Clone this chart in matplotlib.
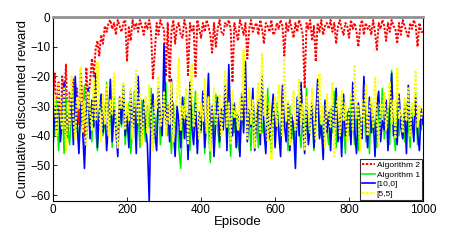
import matplotlib.pyplot as plt

# episodes sampled every 5 steps
episodes = list(range(0, 1001, 5))

algorithm2 = [
    -27, -19, -35, -22, -38, -20, -30, -16, -41, -25, -33, -21, -39, -24, -36, -18, -30, -40, -17, -28, -22,
    -14, -20, -11, -8, -13, -6, -9, -3, -5, -2,
    -1, -4, -2, -6, -1, -3, -5, -2, -1, -15,
    -3, -8, -1, -4, -2, -5, -1, -3, -6, -2,
    -4, -1, -5, -21, -12, -2, -6, -1, -3, -4,
    -20, -2, -22, -5, -1, -9, -3, -2, -6, -7,
    -1, -4, -20, -2, -5, -3, -20, -1, -4, -7,
    -2, -5, -1, -3, -6, -12, -2, -10, -4, -1,
    -5, -6, -2, -3, -1, -4, -22, -2, -5, -8,
    -1, -3, -6, -2, -14, -4, -1, -5, -3, -2,
    -6, -1, -4, -9, -2, -3, -5, -1, -6, -5,
    -2, -4, -1, -3, -13, -2, -5, -1, -4, -7,
    -2, -5, -1, -3, -6, -24, -2, -4, -1, -8,
    -3, -15, -2, -5, -1, -6, -3, -2, -4, -1,
    -5, -2, -9, -3, -1, -4, -6, -2, -3, -7,
    -1, -4, -2, -5, -10, -3, -1, -6, -2, -4,
    -3, -6, -1, -5, -11, -2, -4, -1, -3, -8,
    -2, -5, -1, -3, -4, -9, -2, -6, -1, -3,
    -5, -7, -2, -4, -1, -3, -10, -2, -5, -5,
]

algorithm1 = [
    -33, -40, -28, -45, -36, -30, -46, -27, -38, -43,
    -31, -24, -39, -35, -44, -29, -37, -23, -41, -34,
    -30, -42, -26, -38, -45, -33, -28, -40, -36, -22,
    -39, -31, -44, -27, -35, -41, -30, -37, -24, -43,
    -34, -29, -46, -38, -25, -40, -32, -44, -28, -36,
    -42, -30, -37, -24, -45, -33, -39, -27, -43, -35,
    -31, -22, -40, -36, -46, -29, -38, -33, -44, -51,
    -35, -27, -41, -32, -45, -30, -38, -25, -43, -34,
    -39, -28, -46, -33, -37, -49, -31, -42, -26, -38,
    -44, -32, -36, -23, -41, -35, -47, -29, -39, -33,
    -43, -46, -30, -37, -25, -41, -34, -45, -28, -38,
    -32, -44, -27, -39, -35, -42, -24, -37, -46, -31,
    -40, -29, -36, -43, -26, -38, -33, -45, -30, -41,
    -35, -48, -28, -37, -44, -32, -39, -24, -42, -34,
    -30, -45, -36, -27, -40, -33, -47, -29, -38, -43,
    -31, -39, -25, -44, -35, -41, -28, -37, -46, -32,
    -40, -27, -36, -43, -30, -45, -34, -38, -26, -42,
    -33, -46, -29, -39, -35, -44, -31, -37, -24, -41,
    -36, -30, -43, -18, -38, -45, -28, -40, -33, -37,
    -42, -29, -36, -44, -31, -39, -26, -43, -35, -38,
    -33,
]

fixed_10_0 = [
    -44, -30, -38, -26, -42, -34, -22, -40, -31, -36,
    -27, -43, -20, -35, -46, -29, -38, -51, -33, -24,
    -41, -28, -37, -19, -44, -32, -26, -39, -30, -45,
    -35, -21, -42, -31, -38, -47, -27, -36, -23, -40,
    -33, -44, -25, -38, -30, -46, -20, -35, -41, -28,
    -37, -43, -62, -31, -26, -39, -45, -24, -34, -40,
    -9, -36, -29, -42, -21, -38, -47, -30, -35, -44,
    -27, -41, -33, -48, -22, -37, -43, -29, -46, -32,
    -38, -25, -44, -35, -19, -41, -30, -47, -34, -27,
    -42, -31, -38, -23, -45, -16, -36, -40, -29, -44,
    -33, -47, -26, -39, -15, -42, -31, -37, -24, -45,
    -35, -28, -43, -20, -38, -46, -30, -41, -34, -26,
    -44, -32, -39, -47, -23, -36, -42, -29, -45, -33,
    -38, -51, -27, -40, -22, -35, -46, -31, -43, -37,
    -29, -44, -34, -21, -41, -36, -48, -28, -39, -32,
    -45, -30, -37, -24, -42, -33, -47, -26, -40, -35,
    -31, -43, -22, -38, -46, -29, -36, -41, -20, -34,
    -44, -27, -39, -33, -47, -30, -25, -42, -35, -38,
    -28, -45, -32, -19, -40, -36, -43, -26, -37, -41,
    -30, -46, -23, -38, -34, -42, -27, -39, -45, -31,
    -36,
]

fixed_5_5 = [
    -35, -26, -40, -22, -33, -38, -24, -45, -29, -36,
    -20, -34, -41, -27, -31, -17, -39, -28, -43, -25,
    -32, -38, -21, -35, -15, -30, -42, -26, -36, -23,
    -40, -28, -33, -19, -37, -44, -27, -31, -22, -38,
    -29, -35, -24, -41, -30, -18, -36, -26, -43, -32,
    -27, -39, -23, -34, -45, -28, -31, -20, -37, -33,
    -25, -40, -29, -36, -22, -42, -31, -27, -14, -38,
    -30, -34, -24, -43, -28, -16, -37, -32, -26, -41,
    -29, -35, -21, -39, -27, -45, -31, -24, -36, -33,
    -26, -40, -30, -18, -37, -29, -43, -25, -34, -31,
    -38, -27, -35, -11, -32, -41, -24, -36, -28, -44,
    -30, -22, -39, -12, -33, -26, -42, -29, -48, -34,
    -27, -37, -23, -31, -40, -14, -35, -28, -43, -30,
    -25, -38, -33, -21, -36, -29, -45, -27, -32, -39,
    -24, -34, -41, -28, -19, -36, -30, -44, -26, -33,
    -37, -22, -47, -31, -27, -40, -25, -35, -29, -42,
    -32, -26, -38, -16, -34, -30, -45, -28, -36, -23,
    -40, -31, -27, -37, -20, -35, -43, -29, -33, -25,
    -38, -30, -22, -36, -28, -41, -17, -34, -31, -39,
    -27, -35, -24, -40, -29, -33, -18, -37, -30, -34,
    -31,
]

plt.rcParams["font.family"] = ["Liberation Sans", "DejaVu Sans"]

fig = plt.figure(figsize=(4.53, 2.47), dpi=100)
ax = fig.add_axes([0.117, 0.186, 0.817, 0.745])

ax.plot(episodes, algorithm2, color="#ff0000", linestyle=(0, (1.2, 0.8)), linewidth=1.4, label="Algorithm 2")
ax.plot(episodes, algorithm1, color="#00ee00", linestyle="-", linewidth=1.1, label="Algorithm 1")
ax.plot(episodes, fixed_10_0, color="#0000ff", linestyle="-", linewidth=1.2, label="[10,0]")
ax.plot(episodes, fixed_5_5, color="#ffff00", linestyle=(0, (1.2, 0.7)), linewidth=1.5, label="[5,5]")

ax.set_xlim(0, 1000)
ax.set_ylim(-62, 0)
ax.set_xticks([0, 200, 400, 600, 800, 1000])
ax.set_yticks([0, -10, -20, -30, -40, -50, -60])
ax.tick_params(direction="in", labelsize=8.5, length=3, width=0.6, pad=2)
ax.set_xlabel("Episode", fontsize=9.5, labelpad=0)
ax.set_ylabel("Cumulative discounted reward", fontsize=9.5, labelpad=1)

for side in ["left", "bottom", "right"]:
    ax.spines[side].set_linewidth(0.8)
ax.spines["top"].set_color("#909090")
ax.spines["top"].set_linewidth(2)

leg = ax.legend(loc="lower right", fontsize=6, handlelength=1.5, handletextpad=0.2,
                borderpad=0.25, labelspacing=0.2, borderaxespad=0.15, fancybox=False)
leg.get_frame().set_edgecolor("black")
leg.get_frame().set_linewidth(0.8)

plt.savefig("out.png", dpi=100)
plt.close()
